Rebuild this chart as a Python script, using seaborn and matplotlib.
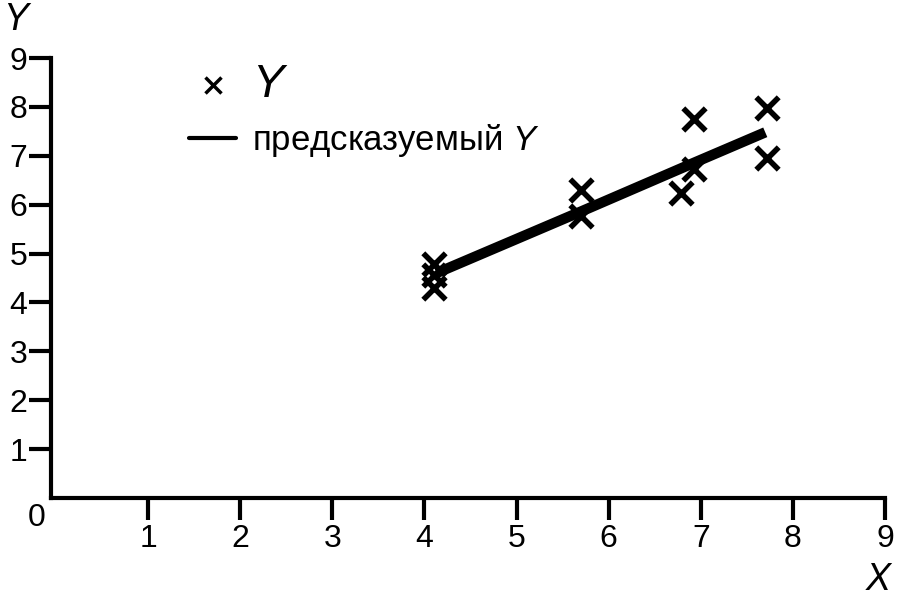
import matplotlib
matplotlib.use("Agg")
import matplotlib.pyplot as plt
import seaborn as sns
from matplotlib.lines import Line2D

# данные
x_obs = [4.1, 4.1, 4.1, 5.7, 5.7, 6.78, 6.93, 6.93, 7.72, 7.72]
y_obs = [4.78, 4.56, 4.3, 6.3, 5.77, 6.24, 7.75, 6.72, 7.97, 6.96]
x_pred = [4.13, 5.7, 6.93, 7.7]
y_pred = [4.6, 5.86, 6.86, 7.48]
ticks = [1, 2, 3, 4, 5, 6, 7, 8, 9]

sns.set_style("white")
plt.rcParams['font.family'] = ['Liberation Sans', 'DejaVu Sans']
plt.rcParams['mathtext.fontset'] = 'custom'
plt.rcParams['mathtext.it'] = 'Liberation Sans:italic'
plt.rcParams['mathtext.rm'] = 'Liberation Sans'
plt.rcParams['text.color'] = 'black'
plt.rcParams['xtick.color'] = 'black'
plt.rcParams['ytick.color'] = 'black'

fig = plt.figure(figsize=(9.01, 6.05), dpi=100)
ax = fig.add_axes([51 / 901, 1 - 498 / 605, (885 - 51) / 901, (498 - 58) / 605])

sns.scatterplot(x=x_obs, y=y_obs, marker='x', s=260, color='black',
                linewidth=4, ax=ax, zorder=3)
sns.lineplot(x=x_pred, y=y_pred, color='black', linewidth=7.5, ax=ax,
             solid_capstyle='butt')

ax.set_xlim(-0.055, 9)
ax.set_ylim(0, 9)
ax.set_xticks(ticks)
ax.set_yticks(ticks)
ax.set_xticklabels([str(t) for t in ticks], fontsize=23)
ax.set_yticklabels([str(t) for t in ticks], fontsize=23)
ax.tick_params(axis='both', length=16, width=3, direction='out',
               color='black', labelcolor='black', bottom=True, left=True)
ax.tick_params(axis='y', pad=1)
ax.tick_params(axis='x', pad=3)
for s in ['top', 'right']:
    ax.spines[s].set_visible(False)
for s in ['left', 'bottom']:
    ax.spines[s].set_linewidth(3)
    ax.spines[s].set_color('black')
ax.grid(False)

fig.text(37 / 901, 1 - 518 / 605, '0', fontsize=23, ha='center', va='center')
fig.text(16 / 901, 1 - 20 / 605, 'Y', fontsize=27, style='italic',
         ha='center', va='center')
fig.text(878 / 901, 1 - 580 / 605, 'X', fontsize=27, style='italic',
         ha='center', va='center')

handles = [
    Line2D([], [], marker='x', color='black', linestyle='none',
           markersize=11, markeredgewidth=2.5),
    Line2D([], [], color='black', linewidth=3),
]
leg = ax.legend(handles, ['$Y$', 'предсказуемый $Y$'], loc='upper left',
                bbox_to_anchor=(158 / 901, 1 - 32 / 605),
                bbox_transform=fig.transFigure, frameon=False, fontsize=25,
                handlelength=1.35, handletextpad=0.45, labelspacing=0.42)
leg.get_texts()[0].set_fontsize(34)

fig.savefig('out.png', dpi=100)
